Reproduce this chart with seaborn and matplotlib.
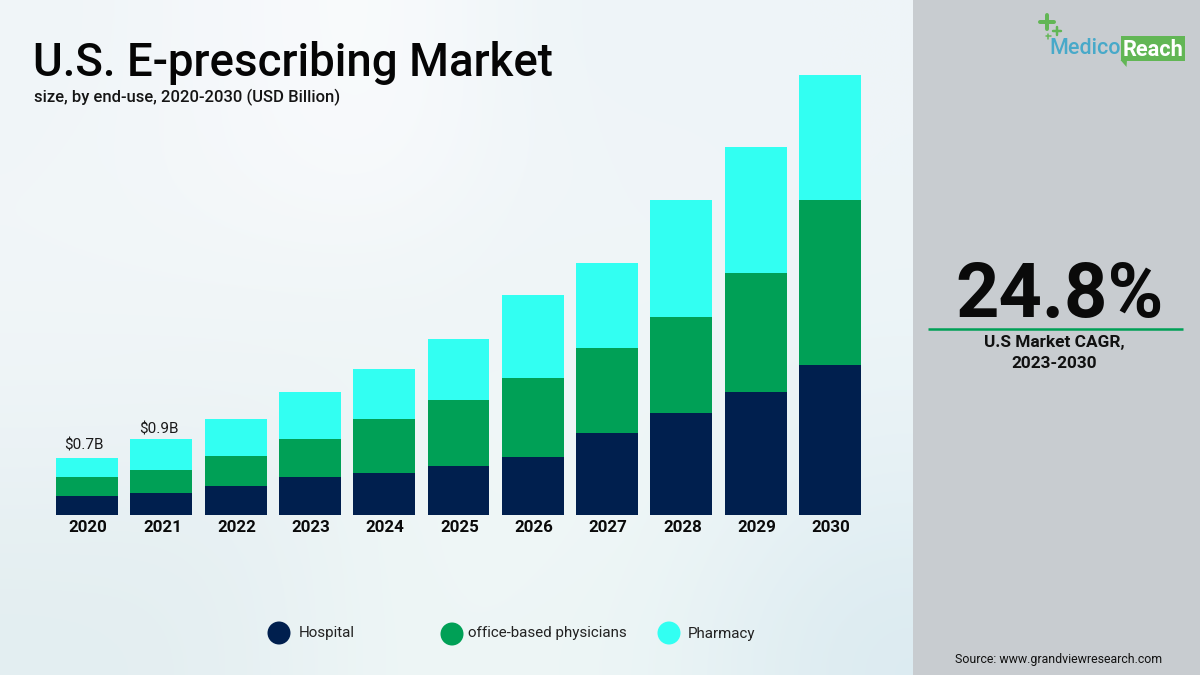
import numpy as np
import pandas as pd
import matplotlib
matplotlib.use("Agg")
import matplotlib.pyplot as plt
from matplotlib.patches import Rectangle, Polygon, Circle
import seaborn as sns

years = ["2020","2021","2022","2023","2024","2025","2026","2027","2028","2029","2030"]
hospital = [0.233,0.270,0.356,0.467,0.516,0.602,0.712,1.007,1.253,1.510,1.842]
office   = [0.233,0.282,0.368,0.467,0.663,0.810,0.970,1.044,1.179,1.461,2.026]
pharmacy = [0.233,0.381,0.454,0.577,0.614,0.749,1.019,1.044,1.437,1.547,1.535]
series_names = ["Hospital","office-based physicians","Pharmacy"]
colors = ["#001f4e","#00a056","#32fff2"]
bar_labels = {"2020":"$0.7B","2021":"$0.9B"}
label_offsets = {"2020":(-2.5,4),"2021":(-1.5,1.5)}

sns.set_style("white")
plt.rcParams["font.family"] = ["Roboto","DejaVu Sans"]

fig = plt.figure(figsize=(12,6.75), dpi=100)
px = fig.add_axes([0,0,1,1], zorder=0)
px.set_xlim(0,1200); px.set_ylim(675,0); px.axis("off")

# soft background wash
wash = np.array([
 [[240,245,248],[245,248,251],[251,252,253],[238,245,248],[238,244,248],[238,245,248]],
 [[241,246,249],[245,248,250],[249,251,252],[240,245,249],[240,245,248],[238,245,248]],
 [[241,246,248],[241,246,248],[241,246,248],[238,245,247],[240,245,248],[237,245,248]],
 [[238,244,247],[238,244,246],[238,245,246],[240,247,248],[238,245,247],[234,243,246]],
 [[232,241,243],[231,240,243],[238,246,246],[240,247,247],[237,245,246],[228,240,244]],
 [[227,238,241],[229,239,242],[238,246,246],[238,246,246],[234,244,245],[220,235,241]],
],dtype=float)/255
px.imshow(wash,extent=(0,913,675,0),aspect="auto",interpolation="bicubic",zorder=0)
px.set_xlim(0,1200); px.set_ylim(675,0)
px.add_patch(Rectangle((913,0),287,675,color="#c8ccd0",lw=0,zorder=1))

ax = fig.add_axes([49.85/1200,(675-515)/675,817.3/1200,455/675],zorder=2)
ax.patch.set_alpha(0)
df = pd.DataFrame({"year":years,"Hospital":hospital,"Office":office,"Pharmacy":pharmacy})
bottom = np.zeros(len(years))
for col,c in zip(["Hospital","Office","Pharmacy"],colors):
    sns.barplot(data=df,x="year",y=col,color=c,saturation=1,width=0.834,
                bottom=bottom,linewidth=0,ax=ax)
    bottom = bottom+df[col].to_numpy()
ax.set_xlim(-0.5,10.5)
ax.set_ylim(0,455*0.7/57)
ax.set_xlabel(""); ax.set_ylabel(""); ax.set_yticks([])
sns.despine(ax=ax,left=True,bottom=True)
ax.tick_params(axis="x",length=0,pad=3.8)
for t in ax.get_xticklabels():
    t.set_fontsize(12.2); t.set_fontweight("bold"); t.set_color("#0a0a0a")
    t.set_transform(t.get_transform()+matplotlib.transforms.ScaledTranslation(0.8/72,0,fig.dpi_scale_trans))
for i,y in enumerate(years):
    if y in bar_labels:
        ax.annotate(bar_labels[y],(i,bottom[i]),xytext=label_offsets[y],textcoords="offset points",
                    ha="center",va="bottom",fontsize=11,color="#1a1a1a")

ov = fig.add_axes([0,0,1,1],zorder=3)
ov.set_xlim(0,1200); ov.set_ylim(675,0); ov.axis("off"); ov.patch.set_alpha(0)
ov.text(33,63,"U.S. E-prescribing Market",fontsize=32.9,fontweight="medium",color="#050505",va="center",ha="left")
ov.text(34,97.5,"size, by end-use, 2020-2030 (USD Billion)",fontsize=12,fontweight="medium",color="#151515",va="center",ha="left")

for (cx,cy),c,(tx,ty),name in zip([(279,633),(452,634),(669,633)],colors,[(299,633),(468,633),(688,634)],series_names):
    ov.add_patch(Circle((cx,cy),11.5,color=c,lw=0))
    ov.text(tx,ty,name,fontsize=10.9,color="#222222",va="center",ha="left")

ov.text(1060,296,"24.8%",fontsize=54.5,fontweight="bold",color="#0a0a0a",ha="center",va="center")
ov.plot([928,1183],[328.5,328.5],color="#00a056",lw=1.8,solid_capstyle="butt")
ov.text(1054,343,"U.S Market CAGR,",fontsize=12.4,fontweight="bold",color="#111111",ha="center",va="center")
ov.text(1054,364,"2023-2030",fontsize=12.4,fontweight="bold",color="#111111",ha="center",va="center")
ov.text(1059,659,"Source: www.grandviewresearch.com",fontsize=8.9,color="#111111",ha="center",va="center")

# logo
green="#62b655"
ov.add_patch(Rectangle((1120.5,36),64.5,25,color=green,lw=0))
ov.add_patch(Polygon([[1120.5,60],[1127,60],[1126.5,67]],color=green,lw=0))
ov.text(1049,49,"Medico",fontsize=15.5,fontweight="medium",color="#48a9c9",ha="left",va="center")
ov.text(1123,50,"Reach",fontsize=15.7,fontweight="bold",color="white",ha="left",va="center")
for x,y,r,w in [(1047,22,7,4),(1057,31,4,2.5),(1048,36,2.5,1.5)]:
    ov.plot([x-r,x+r],[y,y],color=green,lw=w*0.72,solid_capstyle="round")
    ov.plot([x,x],[y-r,y+r],color=green,lw=w*0.72,solid_capstyle="round")

fig.savefig("out.png",dpi=100)
